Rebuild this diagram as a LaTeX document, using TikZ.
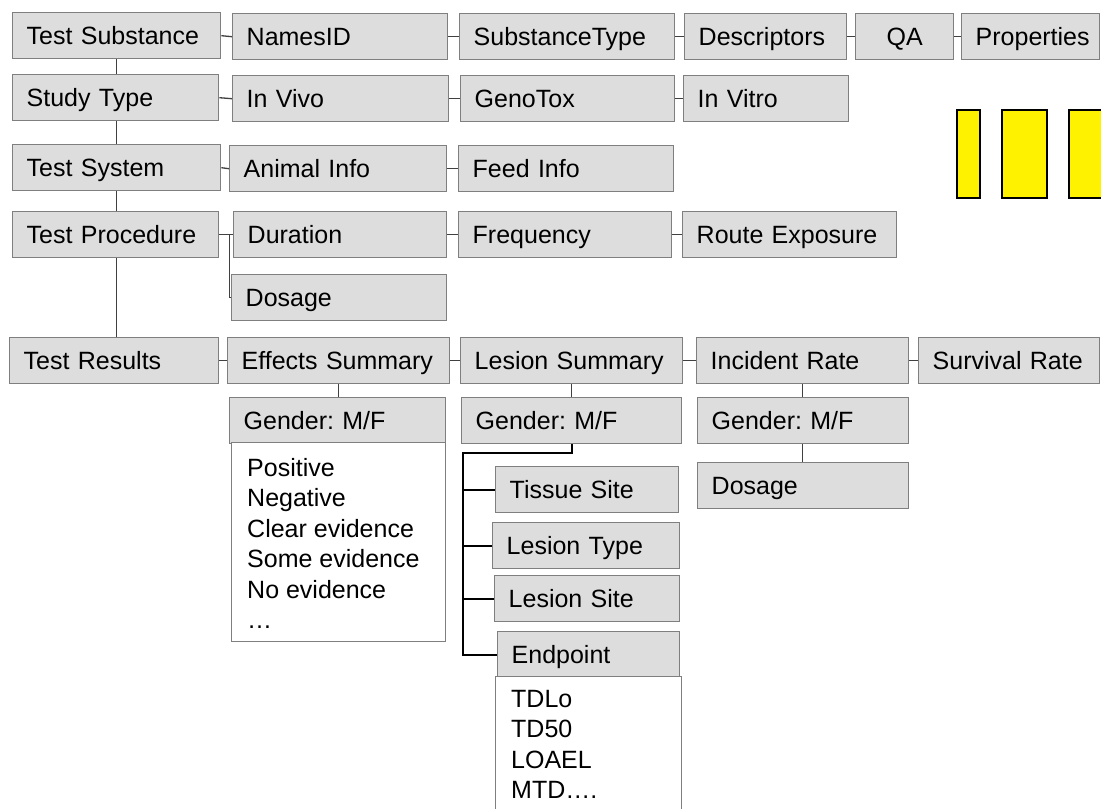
\documentclass[tikz,border=0pt]{standalone}
\usepackage{fontspec}
\setmainfont{Liberation Sans}
\newcommand\diagfont{\fontsize{25}{30.5}\selectfont\frenchspacing}
\definecolor{boxfill}{HTML}{DDDDDD}
\definecolor{boxline}{HTML}{7F7F7F}
\definecolor{connline}{HTML}{404040}
\begin{document}
\frenchspacing
\begin{tikzpicture}[x=1pt,y=-1pt,
  box/.style={draw=boxline, fill=boxfill, line width=1.4pt, anchor=north west,
    minimum height=46pt, inner xsep=14pt, inner ysep=0pt,
    text width=\dimexpr#1pt-28pt\relax, text height=18pt, text depth=0pt,
    font=\diagfont, align=left},
  listbox/.style={draw=boxline, fill=white, line width=1.4pt, anchor=north west,
    inner sep=0pt},
  listtext/.style={anchor=north west, inner sep=0pt, font=\diagfont, align=left},
  conn/.style={draw=connline, line width=1.3pt},
  branch/.style={draw=black, line width=1.8pt},
  marker/.style={draw=black, fill=yellow, line width=2.4pt}]
\useasboundingbox[fill=white] (0,0) rectangle (1101,809);

% main column
\node[box=208] (ts)    at (12,12)  {Test Substance};
\node[box=206] (sty)   at (12,74)  {Study Type};
\node[box=208] (tsys)  at (12,144) {Test System};
\node[box=206] (tproc) at (12,211) {Test Procedure};
\node[box=209] (tres)  at (9,337)  {Test Results};

% substance row
\node[box=215] (nid)   at (232,13) {NamesID};
\node[box=215] (stype) at (459,13) {SubstanceType};
\node[box=162] (desc)  at (684,13) {Descriptors};
\node[box=98, align=center] (qa) at (855,13) {QA};
\node[box=138] (prop)  at (961,13) {Properties};

% study type row
\node[box=216] (inviv) at (232,75) {In Vivo};
\node[box=214] (geno)  at (460,75) {GenoTox};
\node[box=165] (invit) at (683,75) {In Vitro};

% test system row
\node[box=217] (animal) at (229,145) {Animal Info};
\node[box=215] (feed)   at (458,145) {Feed Info};

% test procedure row
\node[box=213] (dur)   at (233,211) {Duration};
\node[box=213] (freq)  at (458,211) {Frequency};
\node[box=214] (route) at (682,211) {Route Exposure};
\node[box=215] (dos)   at (231,274) {Dosage};

% test results row
\node[box=222] (eff)  at (227,337) {Effects Summary};
\node[box=222] (lsum) at (460,337) {Lesion Summary};
\node[box=212] (inc)  at (696,337) {Incident Rate};
\node[box=181] (surv) at (918,337) {Survival Rate};

% effects summary detail
\node[box=216] (g1) at (229,397) {Gender: M/F};
\node[listbox, minimum width=214pt, minimum height=199pt] (effl) at (231,442) {};
\node[listtext] (efft) at (247,458) {Positive\\Negative\\Clear evidence\\Some evidence\\No evidence\\\dots};

% lesion summary detail
\node[box=220] (g2)     at (461,397) {Gender: M/F};
\node[box=183] (tissue) at (495,466) {Tissue Site};
\node[box=187] (ltype)  at (492,522) {Lesion Type};
\node[box=185] (lsite)  at (494,575) {Lesion Site};
\node[box=182] (endp)   at (497,631) {Endpoint};
\node[listbox, minimum width=186pt, minimum height=160pt] (endl) at (495,676) {};
\node[listtext] (endt) at (511,690) {TDLo\\TD50\\LOAEL\\MTD\dots.};

% incident rate detail
\node[box=211] (g3)   at (697,397) {Gender: M/F};
\node[box=211] (dos2) at (697,462) {Dosage};

% yellow markers
\node[marker, anchor=north west, minimum width=23pt, minimum height=88pt, inner sep=0pt] (m1) at (956,109) {};
\node[marker, anchor=north west, minimum width=45pt, minimum height=88pt, inner sep=0pt] (m2) at (1001,109) {};
\node[marker, anchor=north west, minimum width=45pt, minimum height=88pt, inner sep=0pt] (m3) at (1068,109) {};

% main spine
\draw[conn] (ts.south) -- (ts.south |- sty.north);
\draw[conn] (ts.south |- sty.south) -- (ts.south |- tsys.north);
\draw[conn] (ts.south |- tsys.south) -- (ts.south |- tproc.north);
\draw[conn] (ts.south |- tproc.south) -- (ts.south |- tres.north);

% horizontal chains
\draw[conn] (ts.east) -- (nid.west);
\draw[conn] (nid.east) -- (stype.west);
\draw[conn] (stype.east) -- (desc.west);
\draw[conn] (desc.east) -- (qa.west);
\draw[conn] (qa.east) -- (prop.west);

\draw[conn] (sty.east) -- (inviv.west);
\draw[conn] (inviv.east) -- (geno.west);
\draw[conn] (geno.east) -- (invit.west);

\draw[conn] (tsys.east) -- (animal.west);
\draw[conn] (animal.east) -- (feed.west);

\draw[conn] (tproc.east) -- (dur.west);
\draw[conn] (dur.east) -- (freq.west);
\draw[conn] (freq.east) -- (route.west);
\coordinate (tpj) at ([xshift=10pt]tproc.east);
\draw[conn] (tpj) |- (dos.west);

\draw[conn] (tres.east) -- (eff.west);
\draw[conn] (eff.east) -- (lsum.west);
\draw[conn] (lsum.east) -- (inc.west);
\draw[conn] (inc.east) -- (surv.west);

% detail connectors
\draw[conn] (eff.south) -- (eff.south |- g1.north);
\draw[conn] (lsum.south) -- (lsum.south |- g2.north);
\draw[conn] (inc.south) -- (inc.south |- g3.north);
\draw[conn] (inc.south |- g3.south) -- (inc.south |- dos2.north);

\coordinate (lj) at (463,453);
\draw[branch] (g2.south) |- (lj) -- (lj |- endp.west) -- (endp.west);
\draw[branch] (lj |- tissue.west) -- (tissue.west);
\draw[branch] (lj |- ltype.west) -- (ltype.west);
\draw[branch] (lj |- lsite.west) -- (lsite.west);
\end{tikzpicture}
\end{document}
